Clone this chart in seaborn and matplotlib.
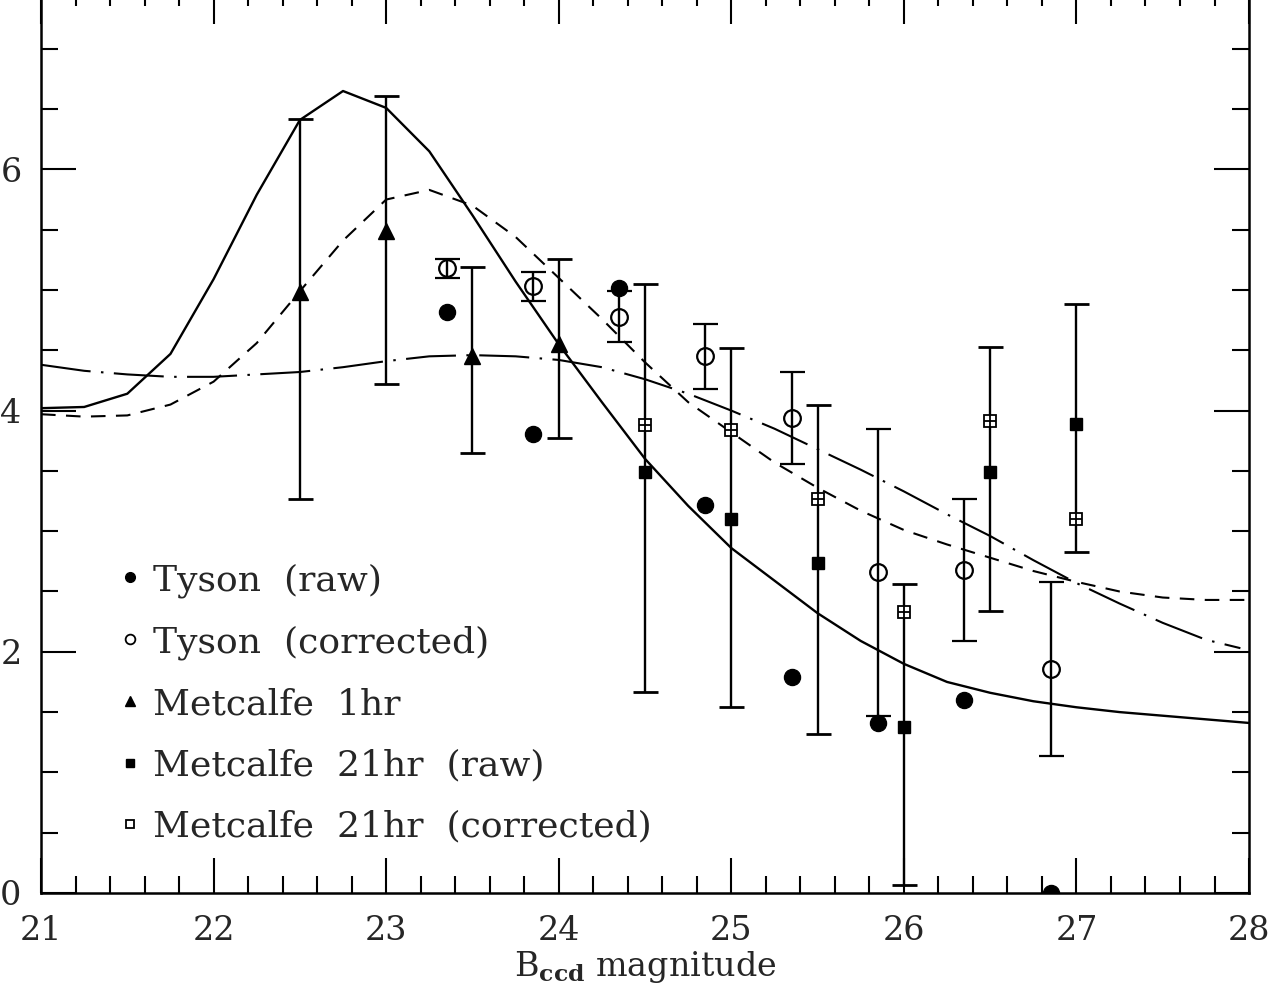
import numpy as np
import pandas as pd
import matplotlib
matplotlib.use("Agg")
import matplotlib.pyplot as plt
from matplotlib.lines import Line2D
from matplotlib.ticker import MultipleLocator
import seaborn as sns

# model curves
mag_grid = [21.0, 21.25, 21.5, 21.75, 22.0, 22.25, 22.5, 22.75, 23.0, 23.25,
            23.5, 23.75, 24.0, 24.25, 24.5, 24.75, 25.0, 25.25, 25.5, 25.75,
            26.0, 26.25, 26.5, 26.75, 27.0, 27.25, 27.5, 27.75, 28.0]
model_solid = [4.02, 4.03, 4.14, 4.47, 5.09, 5.79, 6.41, 6.65, 6.51, 6.15,
               5.62, 5.07, 4.55, 4.07, 3.60, 3.21, 2.86, 2.59, 2.32, 2.09,
               1.90, 1.75, 1.66, 1.59, 1.54, 1.50, 1.47, 1.44, 1.41]
model_dashed = [3.97, 3.95, 3.96, 4.05, 4.24, 4.56, 4.99, 5.41, 5.75, 5.83,
                5.70, 5.44, 5.10, 4.76, 4.40, 4.07, 3.82, 3.57, 3.36, 3.17,
                3.01, 2.89, 2.78, 2.67, 2.58, 2.50, 2.45, 2.43, 2.43]
mag_long = [21.0, 21.25, 21.5, 21.75, 22.0, 22.25, 22.5, 22.75, 23.0, 23.25,
            23.5, 23.75, 24.0, 24.25, 24.5, 24.75, 25.0, 25.25, 25.5, 25.75,
            26.0, 26.25, 26.5, 26.75, 27.0, 27.25, 27.5, 27.75, 27.95]
model_longdash = [4.38, 4.33, 4.30, 4.28, 4.28, 4.30, 4.32, 4.36, 4.41, 4.45,
                  4.46, 4.45, 4.42, 4.36, 4.26, 4.14, 4.00, 3.85, 3.68, 3.51,
                  3.33, 3.14, 2.96, 2.76, 2.57, 2.40, 2.24, 2.10, 2.03]

# Tyson
tyson_mag = [23.35, 23.85, 24.35, 24.85, 25.35, 25.85, 26.35, 26.85]
tyson_raw = [4.82, 3.81, 5.02, 3.22, 1.79, 1.41, 1.60, 0.0]
tyson_corr = [5.18, 5.03, 4.78, 4.45, 3.94, 2.66, 2.68, 1.86]
tyson_err = [0.08, 0.12, 0.21, 0.27, 0.38, 1.19, 0.59, 0.72]

# Metcalfe 1hr
met1_mag = [22.5, 23.0, 23.5, 24.0]
met1_val = [4.98, 5.49, 4.45, 4.55]
met1_hi = [6.42, 6.61, 5.19, 5.26]
met1_lo = [3.27, 4.22, 3.65, 3.77]

# Metcalfe 21hr
met21_mag = [24.5, 25.0, 25.5, 26.0, 26.5, 27.0]
met21_raw = [3.49, 3.10, 2.74, 1.38, 3.49, 3.89]
met21_hi = [5.05, 4.52, 4.05, 2.56, 4.53, 4.88]
met21_lo = [1.67, 1.54, 1.32, 0.07, 2.34, 2.83]
met21_corr = [3.88, 3.84, 3.27, 2.33, 3.91, 3.10]

sns.set_style("ticks")
plt.rcParams["font.family"] = ["DejaVu Serif"]
plt.rcParams["mathtext.fontset"] = "dejavuserif"

fig = plt.figure(figsize=(12.74, 9.91), dpi=100)
ax = fig.add_axes([0.0322, 0.0989, 0.9482, 0.9127])

# model curves
sns.lineplot(x=mag_grid, y=model_solid, ax=ax, color="black", lw=1.7,
             estimator=None, sort=False)
sns.lineplot(x=mag_grid, y=model_dashed, ax=ax, color="black", lw=1.5,
             estimator=None, sort=False, linestyle=(0, (7, 5)))
sns.lineplot(x=mag_long, y=model_longdash, ax=ax, color="black", lw=1.5,
             estimator=None, sort=False, linestyle=(0, (24, 5, 1.2, 5)))

eb = dict(ecolor="black", elinewidth=1.7, capsize=9, capthick=2.0, ls="none")

# Tyson corrected
ax.errorbar(tyson_mag, tyson_corr, yerr=tyson_err, fmt="o", ms=12,
            mfc="none", mec="black", mew=1.6, zorder=3, **eb)
# Tyson raw
sns.scatterplot(x=tyson_mag, y=tyson_raw, ax=ax, marker="o", s=135,
                color="black", edgecolor="black", zorder=4)

# Metcalfe 1hr
m1 = np.array(met1_val)
ax.errorbar(met1_mag, met1_val,
            yerr=[m1 - np.array(met1_lo), np.array(met1_hi) - m1],
            fmt="^", ms=11, color="black", zorder=3, **eb)

# Metcalfe 21hr
m21 = np.array(met21_raw)
ax.errorbar(met21_mag, met21_raw,
            yerr=[m21 - np.array(met21_lo), np.array(met21_hi) - m21],
            fmt="s", ms=9, color="black", zorder=3, **eb)
ax.plot(met21_mag, met21_corr, ls="none", marker="s", ms=9, mfc="white",
        mec="black", mew=1.3, zorder=4)
ax.plot(met21_mag, met21_corr, ls="none", marker="+", ms=9, mec="black",
        mew=1.3, zorder=5)

ax.set_xlim(21, 28)
ax.set_ylim(0, 7.5)
ax.xaxis.set_major_locator(MultipleLocator(1))
ax.xaxis.set_minor_locator(MultipleLocator(0.2))
ax.yaxis.set_major_locator(MultipleLocator(2))
ax.yaxis.set_minor_locator(MultipleLocator(0.5))
ax.tick_params(which="both", direction="in", top=True, right=True,
               width=1.5, color="black")
ax.tick_params(which="major", length=25, labelsize=24)
ax.tick_params(which="minor", length=12.5)
ax.tick_params(axis="x", which="major", pad=16)
ax.tick_params(axis="y", which="major", pad=14)
for s in ax.spines.values():
    s.set_linewidth(1.8)
    s.set_color("black")

ax.set_xlabel(r"B$_{\mathbf{ccd}}$ magnitude", fontsize=24, labelpad=1)
ax.set_ylabel("")

handles = [
    Line2D([], [], ls="none", marker="o", ms=7, color="black"),
    Line2D([], [], ls="none", marker="o", ms=7, mfc="white", mec="black", mew=1.3),
    Line2D([], [], ls="none", marker="^", ms=7, color="black"),
    Line2D([], [], ls="none", marker="s", ms=6, color="black"),
    Line2D([], [], ls="none", marker="s", ms=6, mfc="white", mec="black", mew=1.3),
]
labels = ["Tyson  (raw)", "Tyson  (corrected)", "Metcalfe  1hr",
          "Metcalfe  21hr  (raw)", "Metcalfe  21hr  (corrected)"]
ax.legend(handles, labels, loc="upper left", frameon=False, fontsize=26,
          handlelength=0.6, handletextpad=0.35, labelspacing=0.76,
          borderpad=0, borderaxespad=0,
          bbox_to_anchor=(119 / 1274, 1 - 563 / 991),
          bbox_transform=fig.transFigure)

fig.savefig("out.png", dpi=100)
